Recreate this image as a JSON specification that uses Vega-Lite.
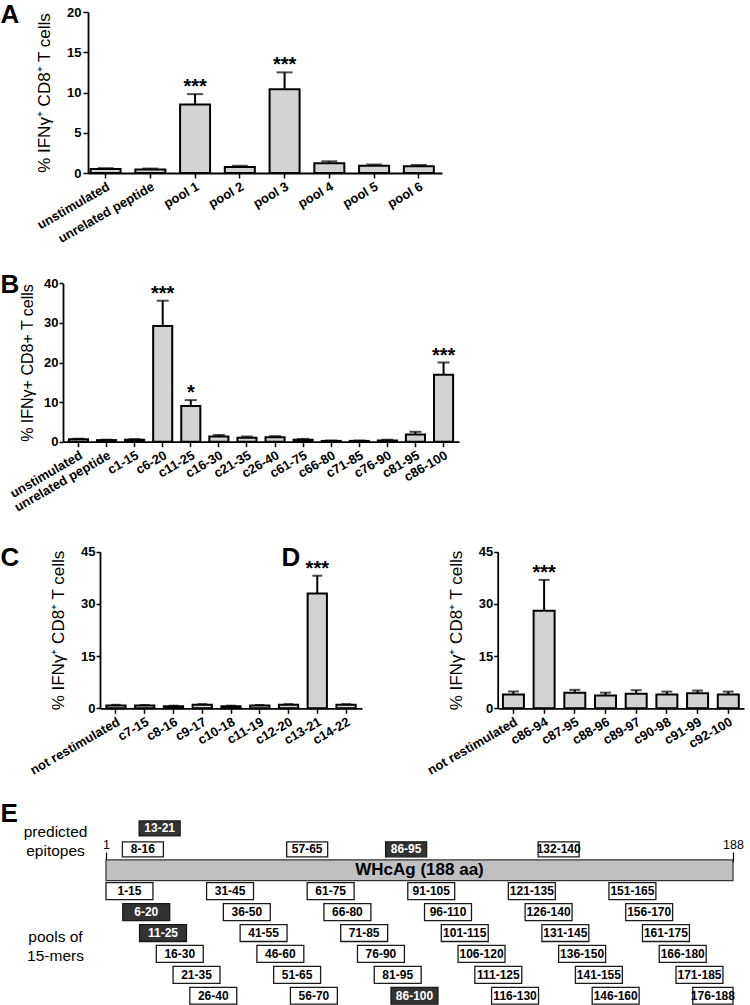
{
  "$schema": "https://vega.github.io/schema/vega-lite/v6.json",
  "width": 750,
  "height": 1005,
  "autosize": {"type": "none"},
  "padding": 0,
  "background": "white",
  "config": {
    "view": {"stroke": null},
    "axis": {
      "grid": false,
      "domainColor": "black",
      "tickColor": "black",
      "labelColor": "black",
      "titleColor": "black",
      "labelFont": "Liberation Sans, Arial, sans-serif",
      "titleFont": "Liberation Sans, Arial, sans-serif",
      "domainWidth": 1.8,
      "tickWidth": 1.5
    },
    "text": {"font": "Liberation Sans, Arial, sans-serif", "color": "black"}
  },
  "datasets": {
    "A": [
      {"cond": "unstimulated", "val": 0.5, "upper": 0.6, "sig": ""},
      {"cond": "unrelated peptide", "val": 0.45, "upper": 0.55, "sig": ""},
      {"cond": "pool 1", "val": 8.5, "upper": 9.8, "sig": "***"},
      {"cond": "pool 2", "val": 0.75, "upper": 0.9, "sig": ""},
      {"cond": "pool 3", "val": 10.4, "upper": 12.5, "sig": "***"},
      {"cond": "pool 4", "val": 1.2, "upper": 1.45, "sig": ""},
      {"cond": "pool 5", "val": 0.9, "upper": 1.05, "sig": ""},
      {"cond": "pool 6", "val": 0.85, "upper": 1.0, "sig": ""}
    ],
    "B": [
      {"cond": "unstimulated", "val": 0.6, "upper": 0.75, "sig": ""},
      {"cond": "unrelated peptide", "val": 0.4, "upper": 0.5, "sig": ""},
      {"cond": "c1-15", "val": 0.5, "upper": 0.65, "sig": ""},
      {"cond": "c6-20", "val": 29.2, "upper": 35.6, "sig": "***"},
      {"cond": "c11-25", "val": 9.0, "upper": 10.5, "sig": "*"},
      {"cond": "c16-30", "val": 1.3, "upper": 1.7, "sig": ""},
      {"cond": "c21-35", "val": 1.0, "upper": 1.3, "sig": ""},
      {"cond": "c26-40", "val": 1.1, "upper": 1.4, "sig": ""},
      {"cond": "c61-75", "val": 0.5, "upper": 0.7, "sig": ""},
      {"cond": "c66-80", "val": 0.2, "upper": 0.3, "sig": ""},
      {"cond": "c71-85", "val": 0.2, "upper": 0.3, "sig": ""},
      {"cond": "c76-90", "val": 0.3, "upper": 0.5, "sig": ""},
      {"cond": "c81-95", "val": 1.8, "upper": 2.5, "sig": ""},
      {"cond": "c86-100", "val": 16.9, "upper": 20.0, "sig": "***"}
    ],
    "C": [
      {"cond": "not restimulated", "val": 0.8, "upper": 1.0, "sig": ""},
      {"cond": "c7-15", "val": 0.8, "upper": 0.95, "sig": ""},
      {"cond": "c8-16", "val": 0.6, "upper": 0.75, "sig": ""},
      {"cond": "c9-17", "val": 1.0, "upper": 1.2, "sig": ""},
      {"cond": "c10-18", "val": 0.6, "upper": 0.75, "sig": ""},
      {"cond": "c11-19", "val": 0.8, "upper": 0.95, "sig": ""},
      {"cond": "c12-20", "val": 1.0, "upper": 1.2, "sig": ""},
      {"cond": "c13-21", "val": 33.0, "upper": 38.1, "sig": "***"},
      {"cond": "c14-22", "val": 1.0, "upper": 1.2, "sig": ""}
    ],
    "D": [
      {"cond": "not restimulated", "val": 4.0, "upper": 4.8, "sig": ""},
      {"cond": "c86-94", "val": 28.0, "upper": 36.9, "sig": "***"},
      {"cond": "c87-95", "val": 4.5, "upper": 5.3, "sig": ""},
      {"cond": "c88-96", "val": 3.7, "upper": 4.5, "sig": ""},
      {"cond": "c89-97", "val": 4.2, "upper": 5.2, "sig": ""},
      {"cond": "c90-98", "val": 4.0, "upper": 4.8, "sig": ""},
      {"cond": "c91-99", "val": 4.3, "upper": 5.1, "sig": ""},
      {"cond": "c92-100", "val": 4.0, "upper": 4.8, "sig": ""}
    ],
    "E": [
      {"label": "WHcAg (188 aa)", "start": 1, "end": 188, "track": "protein", "kind": "protein", "hit": "no"},
      {"label": "13-21", "start": 13, "end": 21, "track": "e1", "kind": "epitope", "hit": "yes"},
      {"label": "8-16", "start": 8, "end": 16, "track": "e2", "kind": "epitope", "hit": "no"},
      {"label": "57-65", "start": 57, "end": 65, "track": "e2", "kind": "epitope", "hit": "no"},
      {"label": "86-95", "start": 86, "end": 95, "track": "e2", "kind": "epitope", "hit": "yes"},
      {"label": "132-140", "start": 132, "end": 140, "track": "e2", "kind": "epitope", "hit": "no"},
      {"label": "1-15", "start": 1, "end": 15, "track": "r1", "kind": "pool", "hit": "no"},
      {"label": "31-45", "start": 31, "end": 45, "track": "r1", "kind": "pool", "hit": "no"},
      {"label": "61-75", "start": 61, "end": 75, "track": "r1", "kind": "pool", "hit": "no"},
      {"label": "91-105", "start": 91, "end": 105, "track": "r1", "kind": "pool", "hit": "no"},
      {"label": "121-135", "start": 121, "end": 135, "track": "r1", "kind": "pool", "hit": "no"},
      {"label": "151-165", "start": 151, "end": 165, "track": "r1", "kind": "pool", "hit": "no"},
      {"label": "6-20", "start": 6, "end": 20, "track": "r2", "kind": "pool", "hit": "yes"},
      {"label": "36-50", "start": 36, "end": 50, "track": "r2", "kind": "pool", "hit": "no"},
      {"label": "66-80", "start": 66, "end": 80, "track": "r2", "kind": "pool", "hit": "no"},
      {"label": "96-110", "start": 96, "end": 110, "track": "r2", "kind": "pool", "hit": "no"},
      {"label": "126-140", "start": 126, "end": 140, "track": "r2", "kind": "pool", "hit": "no"},
      {"label": "156-170", "start": 156, "end": 170, "track": "r2", "kind": "pool", "hit": "no"},
      {"label": "11-25", "start": 11, "end": 25, "track": "r3", "kind": "pool", "hit": "yes"},
      {"label": "41-55", "start": 41, "end": 55, "track": "r3", "kind": "pool", "hit": "no"},
      {"label": "71-85", "start": 71, "end": 85, "track": "r3", "kind": "pool", "hit": "no"},
      {"label": "101-115", "start": 101, "end": 115, "track": "r3", "kind": "pool", "hit": "no"},
      {"label": "131-145", "start": 131, "end": 145, "track": "r3", "kind": "pool", "hit": "no"},
      {"label": "161-175", "start": 161, "end": 175, "track": "r3", "kind": "pool", "hit": "no"},
      {"label": "16-30", "start": 16, "end": 30, "track": "r4", "kind": "pool", "hit": "no"},
      {"label": "46-60", "start": 46, "end": 60, "track": "r4", "kind": "pool", "hit": "no"},
      {"label": "76-90", "start": 76, "end": 90, "track": "r4", "kind": "pool", "hit": "no"},
      {"label": "106-120", "start": 106, "end": 120, "track": "r4", "kind": "pool", "hit": "no"},
      {"label": "136-150", "start": 136, "end": 150, "track": "r4", "kind": "pool", "hit": "no"},
      {"label": "166-180", "start": 166, "end": 180, "track": "r4", "kind": "pool", "hit": "no"},
      {"label": "21-35", "start": 21, "end": 35, "track": "r5", "kind": "pool", "hit": "no"},
      {"label": "51-65", "start": 51, "end": 65, "track": "r5", "kind": "pool", "hit": "no"},
      {"label": "81-95", "start": 81, "end": 95, "track": "r5", "kind": "pool", "hit": "no"},
      {"label": "111-125", "start": 111, "end": 125, "track": "r5", "kind": "pool", "hit": "no"},
      {"label": "141-155", "start": 141, "end": 155, "track": "r5", "kind": "pool", "hit": "no"},
      {"label": "171-185", "start": 171, "end": 185, "track": "r5", "kind": "pool", "hit": "no"},
      {"label": "26-40", "start": 26, "end": 40, "track": "r6", "kind": "pool", "hit": "no"},
      {"label": "56-70", "start": 56, "end": 70, "track": "r6", "kind": "pool", "hit": "no"},
      {"label": "86-100", "start": 86, "end": 100, "track": "r6", "kind": "pool", "hit": "yes"},
      {"label": "116-130", "start": 116, "end": 130, "track": "r6", "kind": "pool", "hit": "no"},
      {"label": "146-160", "start": 146, "end": 160, "track": "r6", "kind": "pool", "hit": "no"},
      {"label": "176-188", "start": 176, "end": 188, "track": "r6", "kind": "pool", "hit": "no"}
    ]
  },
  "layer": [
    {
      "data": {"name": "A"},
      "encoding": {
        "x": {
          "field": "cond", "type": "nominal", "sort": null,
          "scale": {"range": [88, 442], "paddingInner": 0.33, "paddingOuter": 0.12, "align": 0.24},
          "axis": {
            "orient": "bottom", "offset": -832, "labelAngle": -30, "labelFontSize": 13, "labelFontWeight": "bold",
            "tickSize": 5, "labelPadding": 2, "labelLimit": 300,
            "title": "A", "titleX": 0, "titleY": -172, "titleAngle": 0, "titleAlign": "left", "titleBaseline": "top",
            "titleFontSize": 26, "titleFontWeight": "bold"
          }
        }
      },
      "layer": [
        {
          "mark": {"type": "bar", "fill": "#d3d3d3", "stroke": "black", "strokeWidth": 2},
          "encoding": {
            "y": {"field": "val", "type": "quantitative",
              "scale": {"domain": [0, 20], "range": [173, 12], "nice": false, "zero": true},
              "axis": {"orient": "left", "offset": -88, "values": [0, 5, 10, 15, 20], "title": "% IFNγ⁺ CD8⁺ T cells", "titleFontSize": 17, "titleFontWeight": "normal", "titlePadding": 13, "labelFontSize": 13, "labelFontWeight": "bold", "tickSize": 5, "labelPadding": 2}}
          }
        },
        {
          "mark": {"type": "rule", "strokeWidth": 2, "color": "black"},
          "encoding": {
            "y": {"field": "val", "type": "quantitative",
              "scale": {"domain": [0, 20], "range": [173, 12], "nice": false, "zero": true},
              "axis": {"orient": "left", "offset": -88, "values": [0, 5, 10, 15, 20], "title": "% IFNγ⁺ CD8⁺ T cells", "titleFontSize": 17, "titleFontWeight": "normal", "titlePadding": 13, "labelFontSize": 13, "labelFontWeight": "bold", "tickSize": 5, "labelPadding": 2}},
            "y2": {"field": "upper"}
          }
        },
        {
          "mark": {"type": "tick", "size": 16, "thickness": 2, "color": "black"},
          "encoding": {
            "y": {"field": "upper", "type": "quantitative",
              "scale": {"domain": [0, 20], "range": [173, 12], "nice": false, "zero": true},
              "axis": {"orient": "left", "offset": -88, "values": [0, 5, 10, 15, 20], "title": "% IFNγ⁺ CD8⁺ T cells", "titleFontSize": 17, "titleFontWeight": "normal", "titlePadding": 13, "labelFontSize": 13, "labelFontWeight": "bold", "tickSize": 5, "labelPadding": 2}}
          }
        },
        {
          "mark": {"type": "text", "fontSize": 20, "fontWeight": "bold", "baseline": "alphabetic", "dy": -1},
          "encoding": {
            "y": {"field": "upper", "type": "quantitative",
              "scale": {"domain": [0, 20], "range": [173, 12], "nice": false, "zero": true},
              "axis": {"orient": "left", "offset": -88, "values": [0, 5, 10, 15, 20], "title": "% IFNγ⁺ CD8⁺ T cells", "titleFontSize": 17, "titleFontWeight": "normal", "titlePadding": 13, "labelFontSize": 13, "labelFontWeight": "bold", "tickSize": 5, "labelPadding": 2}},
            "text": {"field": "sig", "type": "nominal"}
          }
        }
      ]
    },
    {
      "data": {"name": "B"},
      "encoding": {
        "x": {
          "field": "cond", "type": "nominal", "sort": null,
          "scale": {"range": [63, 459], "paddingInner": 0.32, "paddingOuter": 0.21},
          "axis": {
            "orient": "bottom", "offset": -563.3, "labelAngle": -30, "labelFontSize": 13, "labelFontWeight": "bold",
            "tickSize": 5, "labelPadding": 2, "labelLimit": 300,
            "title": "B", "titleX": 0, "titleY": -170, "titleAngle": 0, "titleAlign": "left", "titleBaseline": "top",
            "titleFontSize": 26, "titleFontWeight": "bold"
          }
        }
      },
      "layer": [
        {
          "mark": {"type": "bar", "fill": "#d3d3d3", "stroke": "black", "strokeWidth": 2},
          "encoding": {
            "y": {"field": "val", "type": "quantitative",
              "scale": {"domain": [0, 40], "range": [441.7, 283.3], "nice": false, "zero": true},
              "axis": {"orient": "left", "offset": -63, "values": [0, 10, 20, 30, 40], "title": "% IFNγ+ CD8+ T cells", "titleFontSize": 16, "titleFontWeight": "normal", "titlePadding": 8, "labelFontSize": 13, "labelFontWeight": "bold", "tickSize": 4, "labelPadding": 1}}
          }
        },
        {
          "mark": {"type": "rule", "strokeWidth": 2, "color": "black"},
          "encoding": {
            "y": {"field": "val", "type": "quantitative",
              "scale": {"domain": [0, 40], "range": [441.7, 283.3], "nice": false, "zero": true},
              "axis": {"orient": "left", "offset": -63, "values": [0, 10, 20, 30, 40], "title": "% IFNγ+ CD8+ T cells", "titleFontSize": 16, "titleFontWeight": "normal", "titlePadding": 8, "labelFontSize": 13, "labelFontWeight": "bold", "tickSize": 4, "labelPadding": 1}},
            "y2": {"field": "upper"}
          }
        },
        {
          "mark": {"type": "tick", "size": 12, "thickness": 2, "color": "black"},
          "encoding": {
            "y": {"field": "upper", "type": "quantitative",
              "scale": {"domain": [0, 40], "range": [441.7, 283.3], "nice": false, "zero": true},
              "axis": {"orient": "left", "offset": -63, "values": [0, 10, 20, 30, 40], "title": "% IFNγ+ CD8+ T cells", "titleFontSize": 16, "titleFontWeight": "normal", "titlePadding": 8, "labelFontSize": 13, "labelFontWeight": "bold", "tickSize": 4, "labelPadding": 1}}
          }
        },
        {
          "mark": {"type": "text", "fontSize": 20, "fontWeight": "bold", "baseline": "alphabetic", "dy": -1},
          "encoding": {
            "y": {"field": "upper", "type": "quantitative",
              "scale": {"domain": [0, 40], "range": [441.7, 283.3], "nice": false, "zero": true},
              "axis": {"orient": "left", "offset": -63, "values": [0, 10, 20, 30, 40], "title": "% IFNγ+ CD8+ T cells", "titleFontSize": 16, "titleFontWeight": "normal", "titlePadding": 8, "labelFontSize": 13, "labelFontWeight": "bold", "tickSize": 4, "labelPadding": 1}},
            "text": {"field": "sig", "type": "nominal"}
          }
        }
      ]
    },
    {
      "data": {"name": "C"},
      "encoding": {
        "x": {
          "field": "cond", "type": "nominal", "sort": null,
          "scale": {"range": [100, 362], "paddingInner": 0.33, "paddingOuter": 0.22},
          "axis": {
            "orient": "bottom", "offset": -296.7, "labelAngle": -30, "labelFontSize": 13, "labelFontWeight": "bold",
            "tickSize": 5, "labelPadding": 2, "labelLimit": 300,
            "title": "C", "titleX": 0, "titleY": -164, "titleAngle": 0, "titleAlign": "left", "titleBaseline": "top",
            "titleFontSize": 26, "titleFontWeight": "bold"
          }
        }
      },
      "layer": [
        {
          "mark": {"type": "bar", "fill": "#d3d3d3", "stroke": "black", "strokeWidth": 2},
          "encoding": {
            "y": {"field": "val", "type": "quantitative",
              "scale": {"domain": [0, 45], "range": [708.3, 551.7], "nice": false, "zero": true},
              "axis": {"orient": "left", "offset": -100, "values": [0, 15, 30, 45], "title": "% IFNγ⁺ CD8⁺ T cells", "titleFontSize": 17, "titleFontWeight": "normal", "titlePadding": 13, "labelFontSize": 13, "labelFontWeight": "bold", "tickSize": 4, "labelPadding": 1}}
          }
        },
        {
          "mark": {"type": "rule", "strokeWidth": 2, "color": "black"},
          "encoding": {
            "y": {"field": "val", "type": "quantitative",
              "scale": {"domain": [0, 45], "range": [708.3, 551.7], "nice": false, "zero": true},
              "axis": {"orient": "left", "offset": -100, "values": [0, 15, 30, 45], "title": "% IFNγ⁺ CD8⁺ T cells", "titleFontSize": 17, "titleFontWeight": "normal", "titlePadding": 13, "labelFontSize": 13, "labelFontWeight": "bold", "tickSize": 4, "labelPadding": 1}},
            "y2": {"field": "upper"}
          }
        },
        {
          "mark": {"type": "tick", "size": 10, "thickness": 2, "color": "black"},
          "encoding": {
            "y": {"field": "upper", "type": "quantitative",
              "scale": {"domain": [0, 45], "range": [708.3, 551.7], "nice": false, "zero": true},
              "axis": {"orient": "left", "offset": -100, "values": [0, 15, 30, 45], "title": "% IFNγ⁺ CD8⁺ T cells", "titleFontSize": 17, "titleFontWeight": "normal", "titlePadding": 13, "labelFontSize": 13, "labelFontWeight": "bold", "tickSize": 4, "labelPadding": 1}}
          }
        },
        {
          "mark": {"type": "text", "fontSize": 20, "fontWeight": "bold", "baseline": "alphabetic", "dy": -1},
          "encoding": {
            "y": {"field": "upper", "type": "quantitative",
              "scale": {"domain": [0, 45], "range": [708.3, 551.7], "nice": false, "zero": true},
              "axis": {"orient": "left", "offset": -100, "values": [0, 15, 30, 45], "title": "% IFNγ⁺ CD8⁺ T cells", "titleFontSize": 17, "titleFontWeight": "normal", "titlePadding": 13, "labelFontSize": 13, "labelFontWeight": "bold", "tickSize": 4, "labelPadding": 1}},
            "text": {"field": "sig", "type": "nominal"}
          }
        }
      ]
    },
    {
      "data": {"name": "D"},
      "encoding": {
        "x": {
          "field": "cond", "type": "nominal", "sort": null,
          "scale": {"range": [497.7, 744], "paddingInner": 0.316, "paddingOuter": 0.17},
          "axis": {
            "orient": "bottom", "offset": -296.7, "labelAngle": -30, "labelFontSize": 13, "labelFontWeight": "bold",
            "tickSize": 5, "labelPadding": 2, "labelLimit": 300,
            "title": "D", "titleX": 281, "titleY": -164, "titleAngle": 0, "titleAlign": "left", "titleBaseline": "top",
            "titleFontSize": 26, "titleFontWeight": "bold"
          }
        }
      },
      "layer": [
        {
          "mark": {"type": "bar", "fill": "#d3d3d3", "stroke": "black", "strokeWidth": 2},
          "encoding": {
            "y": {"field": "val", "type": "quantitative",
              "scale": {"domain": [0, 45], "range": [708.3, 551.7], "nice": false, "zero": true},
              "axis": {"orient": "left", "offset": -497.7, "values": [0, 15, 30, 45], "title": "% IFNγ⁺ CD8⁺ T cells", "titleFontSize": 17, "titleFontWeight": "normal", "titlePadding": 13, "labelFontSize": 13, "labelFontWeight": "bold", "tickSize": 4, "labelPadding": 1}}
          }
        },
        {
          "mark": {"type": "rule", "strokeWidth": 2, "color": "black"},
          "encoding": {
            "y": {"field": "val", "type": "quantitative",
              "scale": {"domain": [0, 45], "range": [708.3, 551.7], "nice": false, "zero": true},
              "axis": {"orient": "left", "offset": -497.7, "values": [0, 15, 30, 45], "title": "% IFNγ⁺ CD8⁺ T cells", "titleFontSize": 17, "titleFontWeight": "normal", "titlePadding": 13, "labelFontSize": 13, "labelFontWeight": "bold", "tickSize": 4, "labelPadding": 1}},
            "y2": {"field": "upper"}
          }
        },
        {
          "mark": {"type": "tick", "size": 11, "thickness": 2, "color": "black"},
          "encoding": {
            "y": {"field": "upper", "type": "quantitative",
              "scale": {"domain": [0, 45], "range": [708.3, 551.7], "nice": false, "zero": true},
              "axis": {"orient": "left", "offset": -497.7, "values": [0, 15, 30, 45], "title": "% IFNγ⁺ CD8⁺ T cells", "titleFontSize": 17, "titleFontWeight": "normal", "titlePadding": 13, "labelFontSize": 13, "labelFontWeight": "bold", "tickSize": 4, "labelPadding": 1}}
          }
        },
        {
          "mark": {"type": "text", "fontSize": 20, "fontWeight": "bold", "baseline": "alphabetic", "dy": -1},
          "encoding": {
            "y": {"field": "upper", "type": "quantitative",
              "scale": {"domain": [0, 45], "range": [708.3, 551.7], "nice": false, "zero": true},
              "axis": {"orient": "left", "offset": -497.7, "values": [0, 15, 30, 45], "title": "% IFNγ⁺ CD8⁺ T cells", "titleFontSize": 17, "titleFontWeight": "normal", "titlePadding": 13, "labelFontSize": 13, "labelFontWeight": "bold", "tickSize": 4, "labelPadding": 1}},
            "text": {"field": "sig", "type": "nominal"}
          }
        }
      ]
    },
    {
      "data": {"name": "E"},
      "encoding": {
        "x": {
          "type": "quantitative",
          "scale": {"type": "linear", "domain": [1, 188], "range": [101, 738], "nice": false, "zero": false},
          "axis": {
            "orient": "top", "offset": -862, "values": [1, 188], "domain": false, "tickSize": 10, "tickWidth": 1.2,
            "labelFontSize": 12.5, "labelFontWeight": "normal", "labelPadding": 1, "labelFlush": false,
            "title": "E", "titleX": 0, "titleY": -62, "titleAngle": 0, "titleAlign": "left", "titleBaseline": "top",
            "titleFontSize": 26, "titleFontWeight": "bold"
          }
        },
        "y": {
          "field": "track", "type": "nominal",
          "scale": {"type": "band", "domain": ["e1", "e2", "protein", "r1", "r2", "r3", "r4", "r5", "r6"], "range": [818, 1006.2], "paddingInner": 0.19, "paddingOuter": 0.095},
          "axis": {
            "orient": "left", "offset": -101, "values": ["e1", "r3"],
            "labelExpr": "datum.value == 'e1' ? ['predicted', 'epitopes'] : ['pools of', '15-mers']",
            "domain": false, "ticks": false, "tickSize": 0, "labelAlign": "center", "labelBaseline": "middle",
            "labelPadding": 46, "labelOffset": 4, "labelFontSize": 15.5, "labelFontWeight": "normal",
            "labelLineHeight": 18.5, "labelLimit": 0, "title": null
          }
        }
      },
      "layer": [
        {
          "transform": [{"filter": "datum.kind == 'protein'"}],
          "mark": {"type": "rect", "fill": "#c0c0c0", "stroke": "#333333", "strokeWidth": 1.2, "height": {"band": 1.22}},
          "encoding": {
            "x": {
              "field": "start", "type": "quantitative",
              "scale": {"type": "linear", "domain": [1, 188], "range": [101, 738], "nice": false, "zero": false},
              "axis": {
                "orient": "top", "offset": -862, "values": [1, 188], "domain": false, "tickSize": 10, "tickWidth": 1.2,
                "labelFontSize": 12.5, "labelFontWeight": "normal", "labelPadding": 1, "labelFlush": false,
                "title": "E", "titleX": 0, "titleY": -62, "titleAngle": 0, "titleAlign": "left", "titleBaseline": "top",
                "titleFontSize": 26, "titleFontWeight": "bold"
              }
            },
            "x2": {"field": "end"}
          }
        },
        {
          "transform": [{"filter": "datum.kind == 'pool'"}],
          "mark": {"type": "rect", "stroke": "#1a1a1a", "strokeWidth": 1.3},
          "encoding": {
            "x": {
              "field": "start", "type": "quantitative",
              "scale": {"type": "linear", "domain": [1, 188], "range": [101, 738], "nice": false, "zero": false},
              "axis": {
                "orient": "top", "offset": -862, "values": [1, 188], "domain": false, "tickSize": 10, "tickWidth": 1.2,
                "labelFontSize": 12.5, "labelFontWeight": "normal", "labelPadding": 1, "labelFlush": false,
                "title": "E", "titleX": 0, "titleY": -62, "titleAngle": 0, "titleAlign": "left", "titleBaseline": "top",
                "titleFontSize": 26, "titleFontWeight": "bold"
              }
            },
            "x2": {"field": "end"},
            "fill": {"field": "hit", "type": "nominal", "scale": {"domain": ["yes", "no"], "range": ["#333333", "#ffffff"]}, "legend": null}
          }
        },
        {
          "transform": [
            {"filter": "datum.kind == 'epitope'"},
            {"fold": ["start", "end"], "as": ["bound", "aa"]},
            {"aggregate": [{"op": "mean", "field": "aa", "as": "mid"}], "groupby": ["label", "track", "hit"]}
          ],
          "mark": {"type": "bar", "orient": "vertical", "size": 41, "height": 15, "stroke": "#1a1a1a", "strokeWidth": 1.3},
          "encoding": {
            "x": {
              "field": "mid", "type": "quantitative",
              "scale": {"type": "linear", "domain": [1, 188], "range": [101, 738], "nice": false, "zero": false},
              "axis": {
                "orient": "top", "offset": -862, "values": [1, 188], "domain": false, "tickSize": 10, "tickWidth": 1.2,
                "labelFontSize": 12.5, "labelFontWeight": "normal", "labelPadding": 1, "labelFlush": false,
                "title": "E", "titleX": 0, "titleY": -62, "titleAngle": 0, "titleAlign": "left", "titleBaseline": "top",
                "titleFontSize": 26, "titleFontWeight": "bold"
              }
            },
            "fill": {"field": "hit", "type": "nominal", "scale": {"domain": ["yes", "no"], "range": ["#333333", "#ffffff"]}, "legend": null}
          }
        },
        {
          "transform": [
            {"filter": "datum.kind != 'protein'"},
            {"fold": ["start", "end"], "as": ["bound", "aa"]},
            {"aggregate": [{"op": "mean", "field": "aa", "as": "mid"}], "groupby": ["label", "track", "hit"]}
          ],
          "mark": {"type": "text", "font": "Liberation Sans, Arial, sans-serif", "fontWeight": "bold", "fontSize": 12, "baseline": "middle"},
          "encoding": {
            "x": {
              "field": "mid", "type": "quantitative",
              "scale": {"type": "linear", "domain": [1, 188], "range": [101, 738], "nice": false, "zero": false},
              "axis": {
                "orient": "top", "offset": -862, "values": [1, 188], "domain": false, "tickSize": 10, "tickWidth": 1.2,
                "labelFontSize": 12.5, "labelFontWeight": "normal", "labelPadding": 1, "labelFlush": false,
                "title": "E", "titleX": 0, "titleY": -62, "titleAngle": 0, "titleAlign": "left", "titleBaseline": "top",
                "titleFontSize": 26, "titleFontWeight": "bold"
              }
            },
            "text": {"field": "label", "type": "nominal"},
            "color": {"field": "hit", "type": "nominal", "scale": {"domain": ["yes", "no"], "range": ["#ffffff", "#000000"]}, "legend": null}
          }
        },
        {
          "transform": [
            {"filter": "datum.kind == 'protein'"},
            {"fold": ["start", "end"], "as": ["bound", "aa"]},
            {"aggregate": [{"op": "mean", "field": "aa", "as": "mid"}], "groupby": ["label", "track"]}
          ],
          "mark": {"type": "text", "fontWeight": "bold", "fontSize": 17, "baseline": "middle", "color": "black"},
          "encoding": {
            "x": {
              "field": "mid", "type": "quantitative",
              "scale": {"type": "linear", "domain": [1, 188], "range": [101, 738], "nice": false, "zero": false},
              "axis": {
                "orient": "top", "offset": -862, "values": [1, 188], "domain": false, "tickSize": 10, "tickWidth": 1.2,
                "labelFontSize": 12.5, "labelFontWeight": "normal", "labelPadding": 1, "labelFlush": false,
                "title": "E", "titleX": 0, "titleY": -62, "titleAngle": 0, "titleAlign": "left", "titleBaseline": "top",
                "titleFontSize": 26, "titleFontWeight": "bold"
              }
            },
            "text": {"field": "label", "type": "nominal"}
          }
        }
      ]
    }
  ],
  "resolve": {"scale": {"x": "independent", "y": "independent"}}
}
